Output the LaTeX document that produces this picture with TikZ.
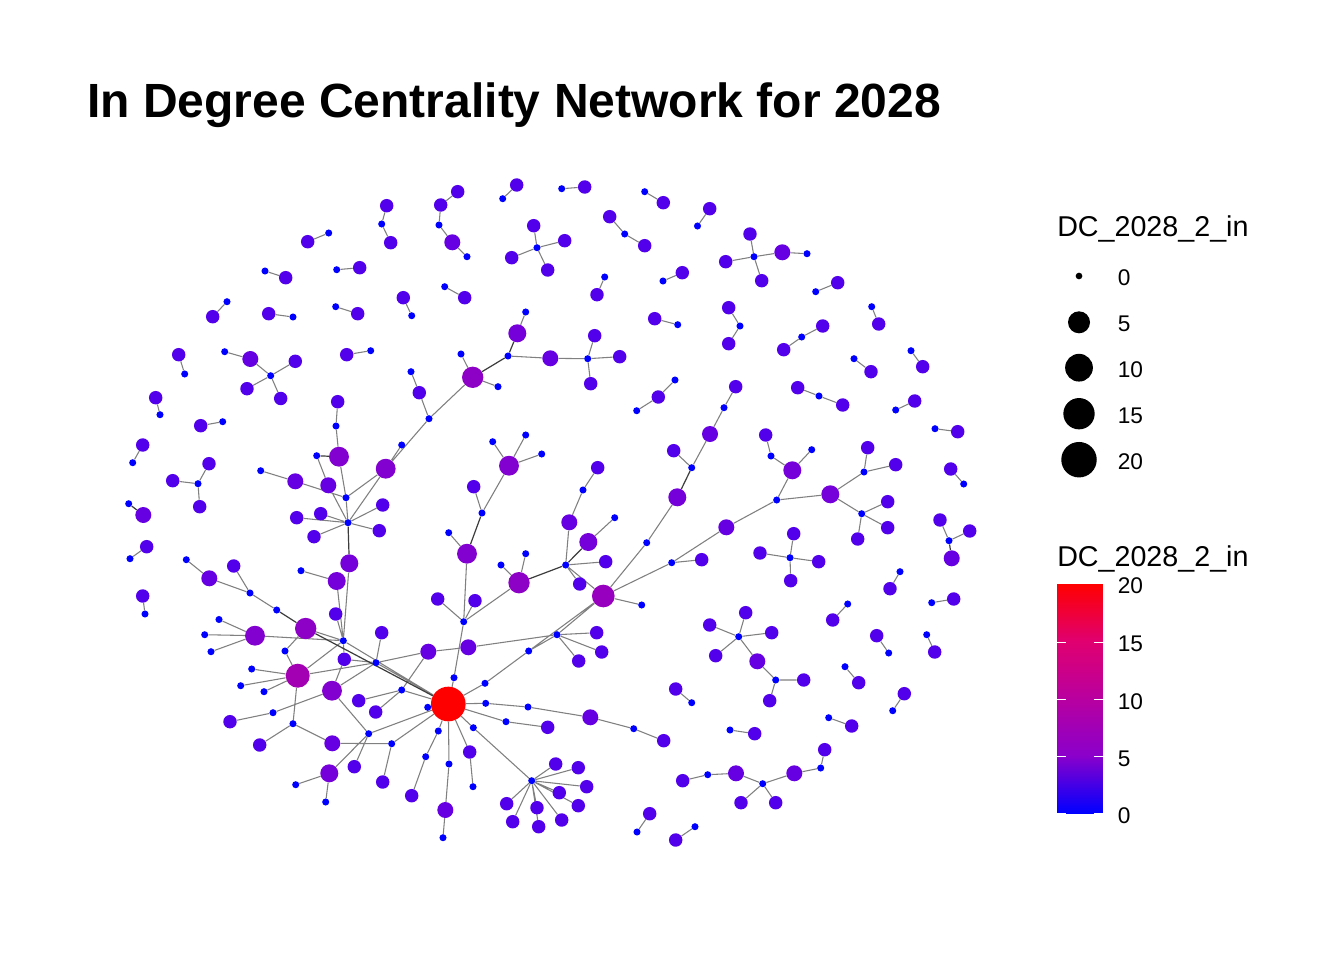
\documentclass[tikz,border=0pt]{standalone}
\usepackage{fontspec}
\setmainfont{Liberation Sans}
\pgfdeclarelayer{bg}
\pgfsetlayers{bg,main}
\definecolor{c0}{HTML}{0000FF}
\definecolor{c1}{HTML}{5200EC}
\definecolor{c2}{HTML}{6600E2}
\definecolor{c3}{HTML}{7500DA}
\definecolor{c4}{HTML}{8200D0}
\definecolor{c5}{HTML}{8D00C6}
\definecolor{c6}{HTML}{9700BE}
\definecolor{c7}{HTML}{A200B2}
\definecolor{cR}{HTML}{FF0000}
\definecolor{cb0}{HTML}{0000FF}
\definecolor{cb1}{HTML}{8A00CB}
\definecolor{cb2}{HTML}{B800A0}
\definecolor{cb3}{HTML}{E00070}
\definecolor{cb4}{HTML}{FF0000}
\definecolor{edgegray}{HTML}{808080}
\definecolor{edgedark}{HTML}{3C3C3C}
\tikzset{
  base/.style={circle,inner sep=0pt,draw=none},
  nd0/.style={base,fill=c0,minimum size=5.3pt},
  nd1/.style={base,fill=c1,minimum size=10.1pt},
  nd2/.style={base,fill=c2,minimum size=12pt},
  nd3/.style={base,fill=c3,minimum size=13.5pt},
  nd4/.style={base,fill=c4,minimum size=14.9pt},
  nd5/.style={base,fill=c5,minimum size=16pt},
  nd6/.style={base,fill=c6,minimum size=17pt},
  nd7/.style={base,fill=c7,minimum size=18pt},
  ndR/.style={base,fill=cR,minimum size=26pt},
  ed/.style={draw=edgegray,line width=0.8pt},
  edk/.style={draw=edgedark,line width=0.9pt},
  legdot/.style={circle,inner sep=0pt,fill=black,draw=none},
  legtitle/.style={anchor=base west,inner sep=0pt,font=\fontsize{21.5}{24}\selectfont},
  leglab/.style={anchor=base west,inner sep=0pt,font=\fontsize{17}{20}\selectfont},
}
\begin{document}
\begin{tikzpicture}[x=0.75pt,y=-0.75pt]
\begin{pgfonlayer}{bg}
\fill[white] (0,0) rectangle (1344,960);
\end{pgfonlayer}
\useasboundingbox (0,0) rectangle (1344,960);
\node[anchor=base west,inner sep=0pt,font=\bfseries\fontsize{36}{40}\selectfont] (title) at (87,117) {In Degree Centrality Network for 2028};
% ---------- top-left ----------
\node[nd1] (t1) at (386.7,205.7) {};
\node[nd0] (t2) at (381.7,224) {};
\node[nd1] (t3) at (390.7,242.7) {};
\node[nd1] (t4) at (307.7,241.7) {};
\node[nd0] (t5) at (328.7,233) {};
\node[nd0] (t6) at (265,271) {};
\node[nd1] (t7) at (285.7,277.7) {};
\node[nd0] (t8) at (336.7,269.7) {};
\node[nd1] (t9) at (359.7,267.7) {};
\node[nd1] (t10) at (403.3,297.7) {};
\node[nd0] (t11) at (411.7,315.7) {};
\node[nd1] (t12) at (212.7,316.7) {};
\node[nd0] (t13) at (227,301.7) {};
\node[nd1] (t14) at (268.7,313.7) {};
\node[nd0] (t15) at (293,317) {};
\node[nd0] (t16) at (335.7,306.7) {};
\node[nd1] (t17) at (357.7,313.7) {};
\node[nd1] (t18) at (178.7,354.7) {};
\node[nd0] (t19) at (184.7,374) {};
\node[nd0] (t20) at (224.7,351.7) {};
\node[nd2] (t21) at (250.3,359) {};
\node[nd0] (t22) at (270.7,375.7) {};
\node[nd1] (t23) at (295.3,361.3) {};
\node[nd1] (t24) at (247,388.7) {};
\node[nd1] (t25) at (280.7,398.5) {};
\node[nd1] (t26) at (346.7,354.7) {};
\node[nd0] (t27) at (370.7,350.7) {};
\node[nd1] (t28) at (155.7,397.7) {};
\node[nd0] (t29) at (160,414.7) {};
\node[nd1] (t30) at (200.7,425.7) {};
\node[nd0] (t31) at (222.7,421.7) {};
\node[nd1] (t32) at (142.7,445) {};
\node[nd0] (t33) at (132.7,462.7) {};
\node[nd1] (t34) at (172.7,480.7) {};
\node[nd0] (t35) at (198,483.7) {};
\node[nd1] (t36) at (209,463.7) {};
\node[nd1] (t37) at (199.7,506.7) {};
\node[nd0] (t38) at (128.7,503.7) {};
\node[nd2] (t39) at (143.3,515) {};
\node[nd1] (t40) at (146.7,546.7) {};
\node[nd0] (t41) at (130,558.7) {};
\node[nd1] (t42) at (142.7,596) {};
\node[nd0] (t43) at (145,614) {};
% ---------- top-centre ----------
\node[nd1] (u1) at (457.7,191.7) {};
\node[nd1] (u2) at (440.7,205) {};
\node[nd0] (u3) at (439,225) {};
\node[nd2] (u4) at (452.3,242.3) {};
\node[nd0] (u5) at (467,256.7) {};
\node[nd1] (u6) at (516.7,185) {};
\node[nd0] (u7) at (502.7,198.7) {};
\node[nd0] (u8) at (561.7,188.7) {};
\node[nd1] (u9) at (584.7,187) {};
\node[nd0] (u10) at (644.7,191.7) {};
\node[nd1] (u11) at (663.3,202.7) {};
\node[nd1] (u12) at (709.7,208.7) {};
\node[nd0] (u13) at (697.5,226) {};
\node[nd1] (u14) at (609.7,216.7) {};
\node[nd0] (u15) at (624.7,234) {};
\node[nd1] (u16) at (644.7,245.7) {};
\node[nd1] (u17) at (533.7,225.7) {};
\node[nd0] (u18) at (537,247.7) {};
\node[nd1] (u19) at (564.7,240.7) {};
\node[nd1] (u20) at (511.7,257.7) {};
\node[nd1] (u21) at (547.7,270) {};
\node[nd0] (u22) at (604.7,277) {};
\node[nd1] (u23) at (597,294.7) {};
\node[nd1] (u24) at (682.3,272.7) {};
\node[nd0] (u25) at (663,281) {};
\node[nd0] (u26) at (444.7,286.7) {};
\node[nd1] (u27) at (464.7,297.7) {};
\node[nd1] (u28) at (654.7,318.7) {};
\node[nd0] (u29) at (677.7,324.7) {};
\node[nd0] (u30) at (525.7,312) {};
\node[nd3] (u31) at (517.3,333.3) {};
\node[nd0] (u32) at (508,356) {};
\node[nd5] (u33) at (472.7,377.3) {};
\node[nd0] (u34) at (461,354) {};
\node[nd0] (u35) at (498,386.7) {};
\node[nd2] (u36) at (550.3,358.3) {};
\node[nd0] (u37) at (587.7,358.7) {};
\node[nd1] (u38) at (594.7,335.7) {};
\node[nd1] (u39) at (619.7,356.7) {};
\node[nd1] (u40) at (590.7,383.7) {};
\node[nd0] (u41) at (411,371.7) {};
\node[nd1] (u42) at (419.3,392.7) {};
\node[nd0] (u43) at (675,380) {};
\node[nd1] (u44) at (658.3,397) {};
% ---------- top-right ----------
\node[nd1] (v1) at (750,234) {};
\node[nd1] (v2) at (725.7,261.7) {};
\node[nd0] (v3) at (754,256.7) {};
\node[nd1] (v4) at (761.7,280.7) {};
\node[nd2] (v5) at (782.3,252.3) {};
\node[nd0] (v6) at (807,253.7) {};
\node[nd1] (v7) at (837.7,282.7) {};
\node[nd0] (v8) at (815.7,291.7) {};
\node[nd1] (v9) at (728.7,307.7) {};
\node[nd0] (v10) at (740,326) {};
\node[nd1] (v11) at (728.7,343.7) {};
\node[nd1] (v12) at (822.7,326) {};
\node[nd0] (v13) at (801.7,337) {};
\node[nd1] (v14) at (783.7,349.7) {};
\node[nd0] (v15) at (871.7,306.7) {};
\node[nd1] (v16) at (878.7,324) {};
\node[nd0] (v17) at (854,358.7) {};
\node[nd1] (v18) at (871,371.7) {};
\node[nd0] (v19) at (911,350.7) {};
\node[nd1] (v20) at (922.7,366.7) {};
\node[nd1] (v21) at (735.7,386.7) {};
\node[nd1] (v22) at (797.7,387.7) {};
\node[nd0] (v23) at (819,396) {};
\node[nd1] (v24) at (842.7,405) {};
\node[nd1] (v25) at (914.7,401) {};
\node[nd0] (v26) at (895.7,410) {};
\node[nd0] (v27) at (935,428.7) {};
\node[nd1] (v28) at (957.7,431.7) {};
\node[nd1] (v29) at (950.7,469) {};
\node[nd0] (v30) at (963.7,484) {};
\node[nd1] (v31) at (940,520) {};
\node[nd0] (v32) at (949,540.7) {};
\node[nd1] (v33) at (969.7,531) {};
\node[nd2] (v34) at (951.7,558.3) {};
\node[nd0] (v35) at (900,571.7) {};
\node[nd1] (v36) at (890,588.7) {};
\node[nd0] (v37) at (931.7,602.7) {};
\node[nd1] (v38) at (953.7,599) {};
\node[nd0] (v39) at (847.7,604) {};
\node[nd1] (v40) at (832.7,620) {};
% ---------- middle-right ----------
\node[nd0] (w1) at (724,407.7) {};
\node[nd2] (w2) at (710,434) {};
\node[nd1] (w3) at (765.7,435) {};
\node[nd0] (w4) at (771,456) {};
\node[nd3] (w5) at (792.3,470.3) {};
\node[nd0] (w6) at (811.7,449.7) {};
\node[nd0] (w7) at (776.7,500) {};
\node[nd3] (w8) at (830.3,494.3) {};
\node[nd2] (w9) at (726.3,527.3) {};
\node[nd0] (w10) at (864,472) {};
\node[nd1] (w11) at (867.7,447.7) {};
\node[nd1] (w12) at (895.7,464.7) {};
\node[nd0] (w13) at (861.7,513.7) {};
\node[nd1] (w14) at (887.7,501.7) {};
\node[nd1] (w15) at (887.7,527.7) {};
\node[nd1] (w16) at (857.7,539) {};
\node[nd0] (w17) at (790,557.7) {};
\node[nd1] (w18) at (793.7,533.7) {};
\node[nd1] (w19) at (760,553) {};
\node[nd1] (w20) at (818.7,561.7) {};
\node[nd1] (w21) at (790.7,580.7) {};
% ---------- bottom-right ----------
\node[nd0] (x1) at (738.7,636.7) {};
\node[nd1] (x2) at (709.7,625) {};
\node[nd1] (x3) at (745.7,612.7) {};
\node[nd1] (x4) at (771.7,632.7) {};
\node[nd1] (x5) at (715.7,655.7) {};
\node[nd2] (x6) at (757.3,661.3) {};
\node[nd0] (x7) at (775.7,680) {};
\node[nd1] (x8) at (803.7,680) {};
\node[nd1] (x9) at (769.7,700.7) {};
\node[nd1] (x10) at (876.7,635.7) {};
\node[nd0] (x11) at (888.7,653) {};
\node[nd0] (x12) at (926.7,634.7) {};
\node[nd1] (x13) at (934.7,652) {};
\node[nd0] (x14) at (845,666.7) {};
\node[nd1] (x15) at (858.7,682.7) {};
\node[nd1] (x16) at (904.3,693.7) {};
\node[nd0] (x17) at (892.7,710.7) {};
\node[nd0] (x18) at (828.7,717.7) {};
\node[nd1] (x19) at (851.7,726) {};
\node[nd0] (x20) at (730,730) {};
\node[nd1] (x21) at (754.7,733.7) {};
\node[nd1] (x22) at (824.7,749.7) {};
\node[nd0] (x23) at (820.7,768) {};
\node[nd2] (x24) at (794.3,773.3) {};
\node[nd0] (x25) at (762.7,783.7) {};
\node[nd2] (x26) at (736,773.3) {};
\node[nd0] (x27) at (707.7,774.7) {};
\node[nd1] (x28) at (682.7,780.7) {};
\node[nd1] (x29) at (741,802.7) {};
\node[nd1] (x30) at (775.7,802.7) {};
\node[nd1] (x31) at (675.7,689) {};
\node[nd0] (x32) at (691.7,702.7) {};
\node[nd1] (x33) at (649.7,813.7) {};
\node[nd0] (x34) at (637,832) {};
\node[nd1] (x35) at (675.7,840) {};
\node[nd0] (x36) at (695,826.7) {};
% ---------- middle ----------
\node[nd0] (m1) at (429,418.7) {};
\node[nd4] (m2) at (509,465.7) {};
\node[nd0] (m3) at (492.7,441.7) {};
\node[nd0] (m4) at (525.7,435) {};
\node[nd0] (m5) at (541.7,454) {};
\node[nd0] (m6) at (482,513) {};
\node[nd1] (m7) at (473.7,486.7) {};
\node[nd4] (m8) at (467,553.7) {};
\node[nd0] (m9) at (448.7,532.7) {};
\node[nd5] (m10) at (519,582.7) {};
\node[nd0] (m11) at (501,565) {};
\node[nd0] (m12) at (525.7,553.7) {};
\node[nd0] (m13) at (565.7,565) {};
\node[nd2] (m14) at (569.3,522.3) {};
\node[nd0] (m15) at (583,490) {};
\node[nd1] (m16) at (597.7,467.7) {};
\node[nd3] (m17) at (588.3,542) {};
\node[nd0] (m18) at (614.7,517.7) {};
\node[nd1] (m19) at (605.7,561.7) {};
\node[nd1] (m20) at (579.7,584) {};
\node[nd6] (m21) at (603.3,596) {};
\node[nd0] (m22) at (641.7,605) {};
\node[nd0] (m23) at (646.7,542.7) {};
\node[nd3] (m24) at (677.3,497.3) {};
\node[nd0] (m25) at (691.7,467.7) {};
\node[nd1] (m26) at (673.7,450.7) {};
\node[nd0] (m27) at (671.7,562.7) {};
\node[nd1] (m28) at (701.7,559.7) {};
\node[nd0] (m29) at (636.7,410.7) {};
\node[nd1] (m31) at (437.7,599) {};
\node[nd1] (m32) at (475,600.7) {};
\node[nd0] (m33) at (463.7,621.7) {};
% ---------- left hub ----------
\node[nd1] (h1) at (337.7,401.7) {};
\node[nd0] (h2) at (336,426) {};
\node[nd4] (h3) at (339,456.7) {};
\node[nd0] (h4) at (316.7,455.7) {};
\node[nd4] (h5) at (385.7,468.7) {};
\node[nd0] (h6) at (401.7,445) {};
\node[nd0] (h7) at (260.7,470.7) {};
\node[nd2] (h8) at (295.3,481.3) {};
\node[nd2] (h9) at (328.3,485.3) {};
\node[nd0] (h10) at (346,497.7) {};
\node[nd0] (h11) at (348,522.7) {};
\node[nd1] (h12) at (296.7,517.7) {};
\node[nd1] (h13) at (320.7,513.7) {};
\node[nd1] (h14) at (314,536.7) {};
\node[nd1] (h15) at (382.7,505) {};
\node[nd1] (h16) at (379.3,530.7) {};
\node[nd3] (h17) at (349.3,563.3) {};
\node[nd3] (h18) at (336.7,581) {};
\node[nd0] (h19) at (301,570.7) {};
\node[nd1] (h20) at (335.7,614) {};
\node[nd2] (h21) at (209.3,578.3) {};
\node[nd0] (h22) at (186.3,559.7) {};
\node[nd1] (h23) at (233.7,566) {};
\node[nd0] (h24) at (250,593) {};
\node[nd0] (h25) at (276.7,610) {};
% ---------- bottom-left ----------
\node[nd4] (b1) at (255,635.7) {};
\node[nd0] (b2) at (204.7,634.7) {};
\node[nd0] (b3) at (211,651.7) {};
\node[nd0] (b4) at (219,619.5) {};
\node[nd5] (b5) at (305.7,628.5) {};
\node[nd0] (b6) at (285,651) {};
\node[nd0] (b7) at (343.3,640.7) {};
\node[nd1] (b8) at (344.3,659.3) {};
\node[nd7] (b9) at (297.7,675.7) {};
\node[nd0] (b10) at (251.7,669) {};
\node[nd0] (b11) at (240.7,685.7) {};
\node[nd0] (b12) at (264,691.7) {};
\node[nd1] (b13) at (381.7,632.7) {};
\node[nd0] (b14) at (376,662.7) {};
\node[nd4] (b15) at (332,690.7) {};
\node[nd0] (b16) at (293,723.7) {};
\node[nd0] (b17) at (273,712.7) {};
\node[nd1] (b18) at (230,721.7) {};
\node[nd1] (b19) at (259.7,745) {};
\node[nd2] (b20) at (332.3,743.3) {};
\node[nd0] (b21) at (368.7,733.7) {};
\node[nd0] (b22) at (391.7,743.7) {};
\node[nd1] (b23) at (354.3,766.7) {};
\node[nd3] (b24) at (329.3,773.3) {};
\node[nd1] (b25) at (382.7,782) {};
\node[nd0] (b26) at (295.7,784.7) {};
\node[nd0] (b27) at (325.7,802) {};
\node[nd0] (b28) at (401.7,690) {};
\node[nd1] (b29) at (358.7,700.7) {};
\node[nd1] (b30) at (375.7,712) {};
% ---------- bottom-centre ----------
\node[ndR] (R) at (448.3,704) {};
\node[nd2] (n1) at (428.3,651.7) {};
\node[nd2] (n2) at (468.3,647.3) {};
\node[nd0] (n3) at (454,677.7) {};
\node[nd0] (n4) at (485,683.3) {};
\node[nd0] (n5) at (485.7,703.3) {};
\node[nd0] (n6) at (427.7,707.3) {};
\node[nd0] (n7) at (438.3,731) {};
\node[nd0] (n8) at (473.3,727.7) {};
\node[nd0] (n9) at (506,721.7) {};
\node[nd1] (n10) at (547.7,727.3) {};
\node[nd0] (n11) at (528,707) {};
\node[nd2] (n12) at (590.3,717.3) {};
\node[nd0] (n13) at (633.7,728.7) {};
\node[nd1] (n14) at (663.7,740.7) {};
\node[nd0] (n15) at (425.7,756.7) {};
\node[nd1] (n16) at (411.7,795.7) {};
\node[nd1] (n17) at (469.7,752) {};
\node[nd0] (n18) at (473,786.7) {};
\node[nd0] (n19) at (449,764) {};
\node[nd2] (n20) at (445.3,810) {};
\node[nd0] (n21) at (443,837.7) {};
\node[nd0] (n22) at (557,634.7) {};
\node[nd1] (n23) at (596.7,632.7) {};
\node[nd1] (n24) at (601.7,652) {};
\node[nd1] (n25) at (578.7,661) {};
\node[nd0] (n26) at (528.7,651) {};
\node[nd0] (s0) at (531.7,780.7) {};
\node[nd1] (s1) at (555.7,764) {};
\node[nd1] (s2) at (578.3,767.7) {};
\node[nd1] (s3) at (586.7,786.7) {};
\node[nd1] (s4) at (559.3,792.7) {};
\node[nd1] (s5) at (578.3,805.7) {};
\node[nd1] (s6) at (561.7,820) {};
\node[nd1] (s7) at (537,807.7) {};
\node[nd1] (s8) at (538.7,826.7) {};
\node[nd1] (s9) at (512.7,821.7) {};
\node[nd1] (s10) at (506.7,803.7) {};
% ---------- edges ----------
\begin{pgfonlayer}{bg}
\draw[ed] (t2)--(t1) (t2)--(t3) (t5)--(t4) (t6)--(t7) (t8)--(t9) (t11)--(t10)
 (t13)--(t12) (t15)--(t14) (t16)--(t17) (t19)--(t18) (t20)--(t21) (t22)--(t21)
 (t22)--(t23) (t22)--(t24) (t22)--(t25) (t27)--(t26) (t29)--(t28) (t31)--(t30)
 (t33)--(t32) (t35)--(t34) (t35)--(t36) (t35)--(t37) (t41)--(t40) (t43)--(t42);
\draw[edk] (t38)--(t39);
\draw[ed] (u1)--(u2) (u3)--(u2) (u3)--(u4) (u5)--(u4) (u7)--(u6) (u8)--(u9)
 (u10)--(u11) (u13)--(u12) (u15)--(u14) (u15)--(u16) (u18)--(u17) (u18)--(u19)
 (u18)--(u20) (u18)--(u21) (u22)--(u23) (u25)--(u24) (u26)--(u27) (u29)--(u28)
 (u30)--(u31) (u34)--(u33) (u35)--(u33) (u32)--(u36) (u37)--(u36) (u37)--(u38)
 (u37)--(u39) (u37)--(u40) (u41)--(u42) (u43)--(u44) (m29)--(u44) (m1)--(u42) (m1)--(u33);
\draw[edk] (u32)--(u31) (u32)--(u33);
\draw[ed] (v3)--(v1) (v3)--(v2) (v3)--(v4) (v3)--(v5) (v6)--(v5) (v8)--(v7)
 (v10)--(v9) (v10)--(v11) (v13)--(v12) (v13)--(v14) (v15)--(v16) (v17)--(v18)
 (v19)--(v20) (w1)--(v21) (v23)--(v22) (v23)--(v24) (v26)--(v25) (v27)--(v28)
 (v30)--(v29) (v32)--(v31) (v32)--(v33) (v35)--(v36) (v37)--(v38) (v39)--(v40);
\draw[edk] (v32)--(v34);
\draw[ed] (w1)--(w2) (m25)--(w2) (w3)--(w4) (w4)--(w5) (w6)--(w5) (w7)--(w5)
 (w7)--(w8) (w7)--(w9) (w10)--(w8) (w10)--(w11) (w10)--(w12) (w13)--(w8)
 (w13)--(w14) (w13)--(w15) (w13)--(w16) (w17)--(w18) (w17)--(w19) (w17)--(w20)
 (w17)--(w21) (m27)--(w9);
\draw[ed] (x1)--(x2) (x1)--(x3) (x1)--(x4) (x1)--(x5) (x1)--(x6) (x6)--(x7)
 (x7)--(x8) (x7)--(x9) (x11)--(x10) (x12)--(x13) (x14)--(x15) (x17)--(x16)
 (x18)--(x19) (x20)--(x21) (x23)--(x22) (x23)--(x24) (x25)--(x24) (x25)--(x26)
 (x27)--(x26) (x27)--(x28) (x25)--(x29) (x25)--(x30) (x32)--(x31) (x34)--(x33)
 (x36)--(x35);
\draw[ed] (m3)--(m2) (m4)--(m2) (m5)--(m2) (m6)--(m2) (m6)--(m7) (m9)--(m8)
 (m33)--(m8) (m11)--(m10) (m12)--(m10) (m33)--(m10) (m13)--(m14) (m15)--(m14)
 (m15)--(m16) (m18)--(m17) (m13)--(m19) (m13)--(m20) (m13)--(m21) (m22)--(m21)
 (m23)--(m21) (m23)--(m24) (m25)--(m26) (m27)--(m21) (m27)--(m28) (m31)--(m33)
 (m32)--(m33) (m33)--(n3);
\draw[edk] (m6)--(m8) (m13)--(m10) (m13)--(m17) (m25)--(m24);
\draw[ed] (h1)--(h2) (h2)--(h3) (h4)--(h9) (h3)--(h10) (h7)--(h8) (h8)--(h10)
 (h10)--(h5) (h10)--(h11) (h9)--(h11) (h11)--(h12) (h11)--(h13) (h11)--(h14)
 (h11)--(h15) (h11)--(h16) (h11)--(h5) (m1)--(h5) (h6)--(h5) (h19)--(h18)
 (h22)--(h21) (h21)--(h24) (h23)--(h24) (h24)--(h25);
\draw[edk] (h4)--(h3) (h11)--(h17) (h25)--(b5);
\draw[ed] (b2)--(b1) (b3)--(b1) (b4)--(b1) (b1)--(b7) (b6)--(b5) (b6)--(b9)
 (b5)--(b7) (b7)--(h17) (b7)--(h18) (b7)--(h20) (b7)--(b8) (b7)--(b9) (b7)--(R)
 (b8)--(b15) (b8)--(b14) (b10)--(b9) (b11)--(b9) (b12)--(b9) (b14)--(b9)
 (b13)--(b14) (b14)--(b15) (b14)--(R) (b14)--(n1) (b9)--(b16) (b18)--(b17)
 (b17)--(b15) (b16)--(b19) (b16)--(b20) (b15)--(b21) (b20)--(b22) (b21)--(b24)
 (b21)--(b23) (b21)--(R) (b22)--(b25) (b22)--(R) (b24)--(b26) (b24)--(b27)
 (b29)--(b28) (b30)--(b28) (b28)--(R) (n1)--(b28);
\draw[edk] (b5)--(R);
\draw[ed] (n1)--(n2) (n3)--(R) (n4)--(R) (n26)--(n4) (n22)--(n26) (n22)--(n2)
 (n22)--(n23) (n22)--(n24) (n22)--(n25) (n22)--(m21) (n26)--(m21) (n5)--(R)
 (n11)--(n5) (n11)--(n12) (n13)--(n12) (n13)--(n14) (n9)--(R) (n9)--(n10)
 (n6)--(R) (n7)--(R) (n15)--(n7) (n15)--(n16) (n19)--(R) (n19)--(n20)
 (n21)--(n20) (n17)--(R) (n18)--(n17) (n8)--(R) (n8)--(s0)
 (s0)--(s1) (s0)--(s2) (s0)--(s3) (s0)--(s4) (s0)--(s5) (s0)--(s6) (s0)--(s7)
 (s0)--(s8) (s0)--(s9) (s0)--(s10);
\end{pgfonlayer}
% ---------- size legend ----------
\node[legtitle] (lt1) at (1057,236.7) {DC\_2028\_2\_in};
\node[legdot,minimum size=5pt] (ls0) at (1079,276) {};
\node[legdot,minimum size=16.5pt] (ls5) at (1079,322.3) {};
\node[legdot,minimum size=20.8pt] (ls10) at (1079,367.7) {};
\node[legdot,minimum size=23.5pt] (ls15) at (1079,413.7) {};
\node[legdot,minimum size=26.6pt] (ls20) at (1079,459.7) {};
\node[leglab] (ll0) at (1117.5,285.5) {0};
\node[leglab] (ll5) at (1117.5,331.5) {5};
\node[leglab] (ll10) at (1117.5,377) {10};
\node[leglab] (ll15) at (1117.5,423) {15};
\node[leglab] (ll20) at (1117.5,469) {20};
% ---------- colour bar ----------
\node[legtitle] (lt2) at (1057,566.7) {DC\_2028\_2\_in};
\foreach \ca/\cbb/\k in {cb0/cb1/0,cb1/cb2/1,cb2/cb3/2,cb3/cb4/3}{
  \foreach \j in {0,...,57}{
    \pgfmathsetmacro\pp{\j*100/57.25}
    \fill[color={\cbb!\pp!\ca}] (1057.3,{814-\k*57.25-\j}) rectangle (1102.7,{814-\k*57.25-\j-1.25});
  }
}
\foreach \yy in {814,756.75,699.5,642.25}{
  \draw[white,line width=0.8pt] (1057.3,\yy) -- (1066.3,\yy) (1093.7,\yy) -- (1102.7,\yy);
}
\node[leglab] (lc20) at (1117.5,593.3) {20};
\node[leglab] (lc15) at (1117.5,651.5) {15};
\node[leglab] (lc10) at (1117.5,709) {10};
\node[leglab] (lc5) at (1117.5,766.5) {5};
\node[leglab] (lc0) at (1117.5,823.3) {0};
\end{tikzpicture}
\end{document}
